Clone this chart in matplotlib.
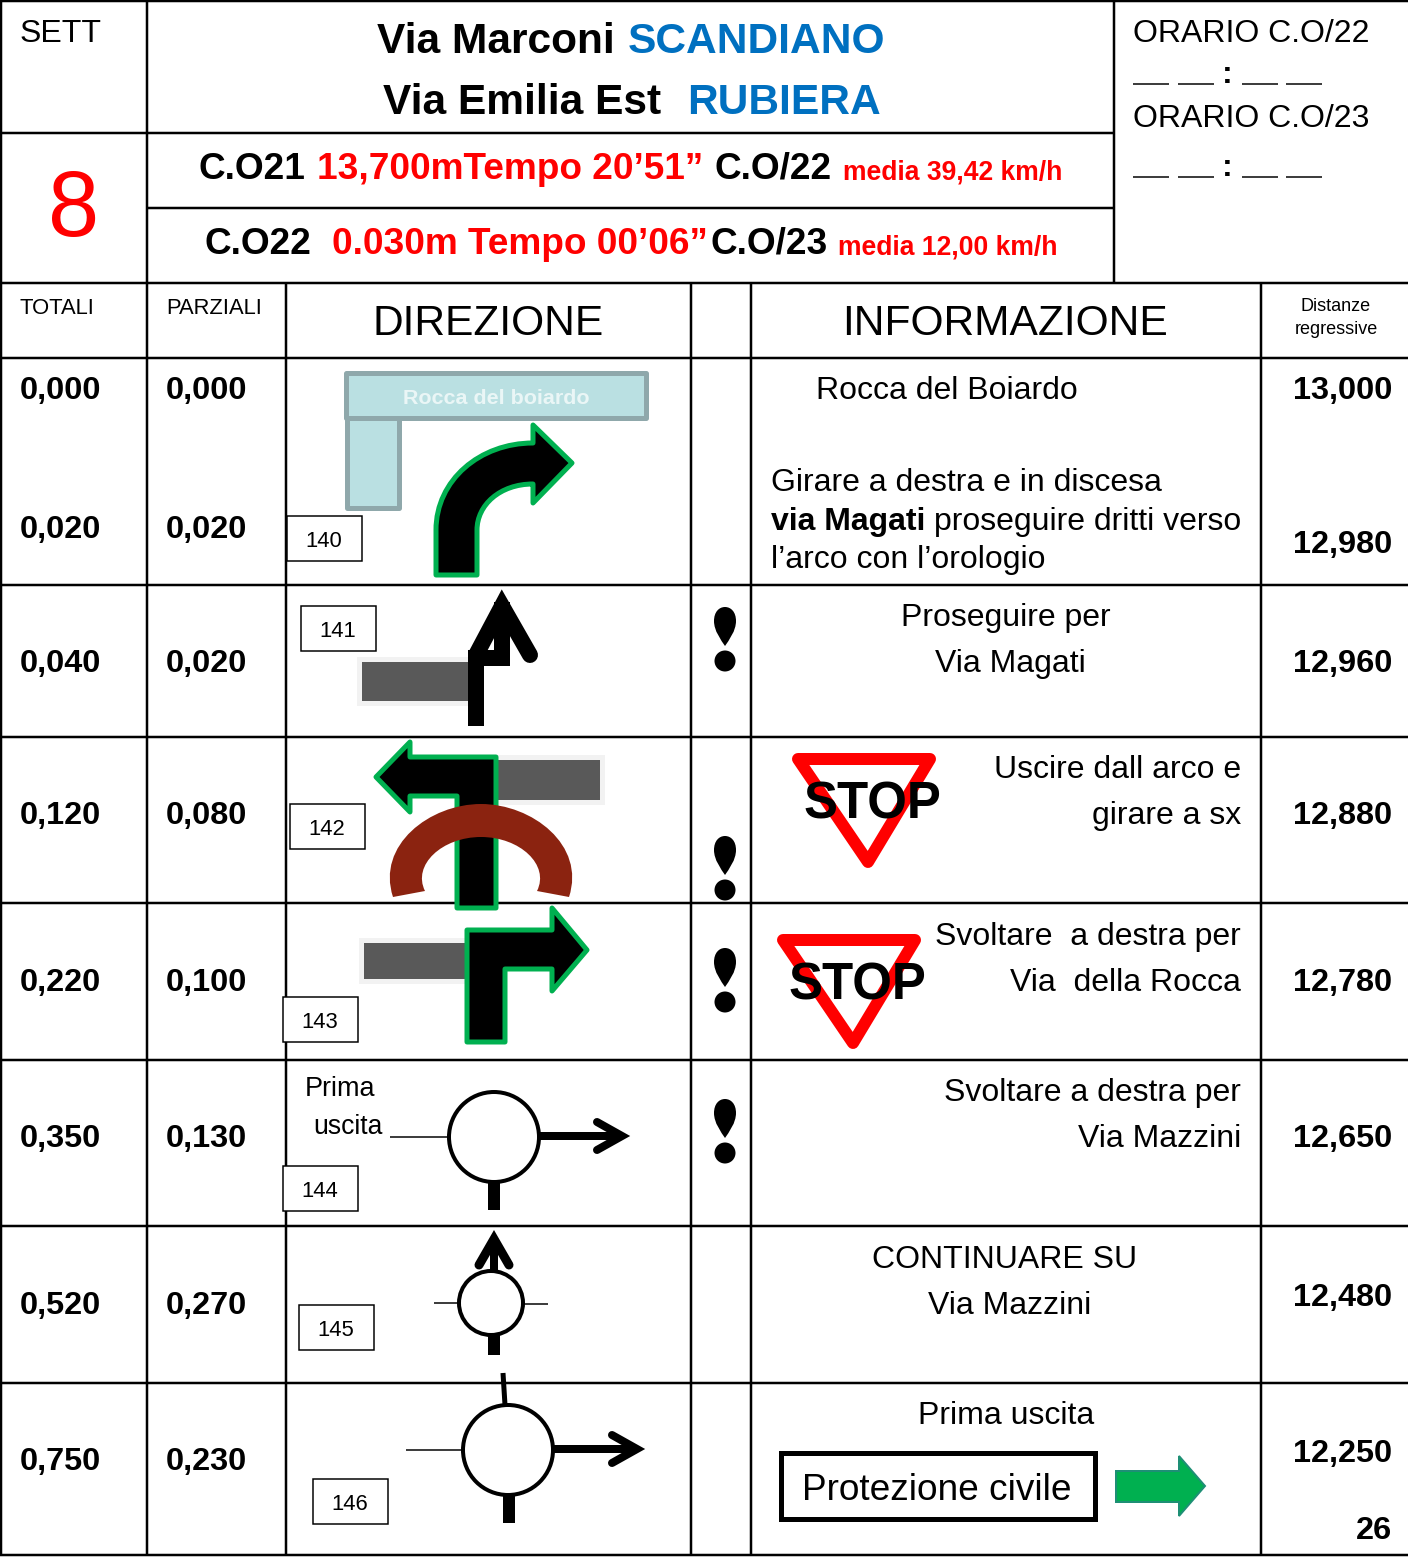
import matplotlib
matplotlib.use('Agg')
import matplotlib.pyplot as plt
from matplotlib.path import Path
from matplotlib.patches import PathPatch, Polygon, Rectangle, Circle, Ellipse

plt.rcParams['font.family'] = ['Liberation Sans', 'DejaVu Sans']

# valori della tabella
totali = ['0,000', '0,020', '0,040', '0,120', '0,220', '0,350', '0,520', '0,750']
parziali = ['0,000', '0,020', '0,020', '0,080', '0,100', '0,130', '0,270', '0,230']
righe_y = [388, 527, 661, 813, 980, 1136, 1303, 1459]
distanze = ['13,000', '12,980', '12,960', '12,880', '12,780', '12,650', '12,480', '12,250']
distanze_y = [388, 542, 661, 813, 980, 1136, 1295, 1451]
caselle = ['140', '141', '142', '143', '144', '145', '146']
caselle_x = [287, 301, 290, 283, 283, 299, 313]
caselle_y = [516, 606, 804, 997, 1166, 1305, 1479]
esclamativi_y = [607, 836, 948, 1099]

VERDE = '#00B050'
BLU = '#0070C0'
ROSSO = '#FF0000'
GRIGIO = '#595959'

fig = plt.figure(figsize=(14.08, 15.58), dpi=100)
ax = fig.add_axes([0, 0, 1, 1])
ax.set_xlim(0, 1408)
ax.set_ylim(1558, 0)
ax.axis('off')


def px(v):
    return v * 0.72


# testo centrato sulle maiuscole alla quota y
def testo(x, y, s, size, ha='left', color='black', bold=False, zorder=10):
    ax.text(x, y + 0.345 * size, s, fontsize=px(size), ha=ha, va='baseline', color=color,
            fontweight='bold' if bold else 'normal', zorder=zorder)


def linea(xs, ys, w=2.5, color='black', cap='butt', join='miter', zorder=3):
    ax.plot(xs, ys, color=color, lw=px(w), solid_capstyle=cap, solid_joinstyle=join, zorder=zorder)


def freccia_verde(punti, zorder=4):
    ax.add_patch(Polygon(punti, closed=True, facecolor='black', edgecolor=VERDE, lw=px(5),
                         joinstyle='round', zorder=zorder))


def grigio(x0, y0, x1, y1):
    ax.add_patch(Rectangle((x0 - 5, y0 - 5), x1 - x0 + 10, y1 - y0 + 10, facecolor='#F2F2F2', edgecolor='none', zorder=2))
    ax.add_patch(Rectangle((x0, y0), x1 - x0, y1 - y0, facecolor=GRIGIO, edgecolor='none', zorder=2))


def rotonda(cx, cy, r):
    ax.add_patch(Circle((cx, cy), r, facecolor='white', edgecolor='black', lw=px(4), zorder=5))


def stop(dx, dy):
    ax.add_patch(Polygon([(798 + dx, 759 + dy), (930 + dx, 759 + dy), (868 + dx, 862 + dy)], closed=True,
                         facecolor='white', edgecolor=ROSSO, lw=px(12), joinstyle='round', zorder=4))
    testo(872 + dx, 801 + dy, 'STOP', 51, ha='center', bold=True)


# griglia
for y, x0, x1 in [(1, 0, 1408), (133, 0, 1114), (208, 147, 1114), (283, 0, 1408), (358, 0, 1408),
                  (585, 0, 1408), (737, 0, 1408), (903, 0, 1408), (1060, 0, 1408), (1226, 0, 1408),
                  (1383, 0, 1408), (1555, 0, 1408)]:
    linea([x0, x1], [y - 0.5, y - 0.5], zorder=1)
for x, y0, y1 in [(1, 0, 1556), (147, 0, 1556), (286, 283, 1556), (691, 283, 1556), (751, 283, 1556),
                  (1261, 283, 1556), (1114, 0, 283)]:
    linea([x - 0.5, x - 0.5], [y0, y1], zorder=1)

# intestazione
testo(20, 31, 'SETT', 32)
testo(74, 204, '8', 92, ha='center', color=ROSSO)
testo(377, 38, 'Via Marconi', 42.5, bold=True)
testo(628, 38, 'SCANDIANO', 42.5, bold=True, color=BLU)
testo(383, 99, 'Via Emilia Est', 42.5, bold=True)
testo(687, 99, 'RUBIERA', 42.5, bold=True, color=BLU)
testo(198, 166, 'C.O21', 37, bold=True)
testo(317, 166, '13,700mTempo 20’51”', 37, bold=True, color=ROSSO)
testo(715, 166, 'C.O/22', 37, bold=True)
testo(843, 170, 'media 39,42 km/h', 26.5, bold=True, color=ROSSO)
testo(204, 241, 'C.O22', 37, bold=True)
testo(332, 241, '0.030m Tempo 00’06”', 37, bold=True, color=ROSSO)
testo(711, 241, 'C.O/23', 37, bold=True)
testo(838, 245, 'media 12,00 km/h', 26.5, bold=True, color=ROSSO)

testo(1133, 31, 'ORARIO C.O/22', 32)
testo(1133, 116, 'ORARIO C.O/23', 32)
for y in [72, 165]:
    for x in [1133, 1178, 1242, 1286]:
        linea([x, x + 36], [y + 12, y + 12], w=1.5)
    testo(1227, y, ':', 32, ha='center', bold=True)

testo(20, 306, 'TOTALI', 22)
testo(166, 306, 'PARZIALI', 22)
testo(488, 320, 'DIREZIONE', 42.5, ha='center')
testo(1005, 320, 'INFORMAZIONE', 42.5, ha='center')
testo(1336, 305, 'Distanze', 18, ha='center')
testo(1336, 328, 'regressive', 18, ha='center')

# colonne numeriche
for t, p, y in zip(totali, parziali, righe_y):
    testo(20, y, t, 32.5, bold=True)
    testo(166, y, p, 32.5, bold=True)
for d, y in zip(distanze, distanze_y):
    testo(1392, y, d, 32.5, ha='right', bold=True)
testo(1392, 1528, '26', 32.5, ha='right', bold=True)

# caselle numerate
for c, x, y in zip(caselle, caselle_x, caselle_y):
    ax.add_patch(Rectangle((x, y), 75, 45, facecolor='white', edgecolor='black', lw=px(1.5), zorder=6))
    testo(x + 37, y + 23, c, 22, ha='center')

# punti esclamativi
for y in esclamativi_y:
    goccia = Path([(714, y + 14), (714, y + 5), (719, y), (725, y), (731, y), (736, y + 5), (736, y + 14),
                   (736, y + 24), (729, y + 33), (725, y + 39), (721, y + 33), (714, y + 24), (714, y + 14)],
                  [Path.MOVETO] + [Path.CURVE4] * 12)
    ax.add_patch(PathPatch(goccia, facecolor='black', edgecolor='none', zorder=4))
    ax.add_patch(Ellipse((725, y + 54), 21, 21, facecolor='black', edgecolor='none', zorder=4))

# cartello Rocca del boiardo
ax.add_patch(Rectangle((347, 418), 52, 90, facecolor='#BAE0E2', edgecolor='#8FA8AB', lw=px(5), joinstyle='round', zorder=2))
ax.add_patch(Rectangle((346, 373), 300, 45, facecolor='#BAE0E2', edgecolor='#8FA8AB', lw=px(5), joinstyle='round', zorder=2))
testo(496, 397, 'Rocca del boiardo', 21.5, ha='center', color='#EAF6F6', bold=True)

# freccia curva
curva = Path([(436, 575), (436, 530), (436, 480), (480, 443), (533, 443), (533, 425), (572, 463), (533, 503),
              (533, 484), (500, 484), (477, 505), (477, 530), (477, 575), (436, 575)],
             [Path.MOVETO, Path.LINETO, Path.CURVE4, Path.CURVE4, Path.CURVE4, Path.LINETO, Path.LINETO, Path.LINETO,
              Path.LINETO, Path.CURVE4, Path.CURVE4, Path.CURVE4, Path.LINETO, Path.CLOSEPOLY])
ax.add_patch(PathPatch(curva, facecolor='black', edgecolor=VERDE, lw=px(5), joinstyle='round', zorder=4))

# riga 141
grigio(362, 662, 470, 701)
linea([476, 476, 502, 502], [726, 658, 658, 602], w=16, zorder=4)
linea([476, 502, 530], [655, 606, 655], w=16, cap='round', zorder=4)

# riga 142
grigio(498, 760, 600, 800)
freccia_verde([(457, 908), (457, 796), (410, 796), (410, 812), (376, 777), (410, 742), (410, 757), (496, 757), (496, 908)])
arco = Path([(393, 897), (376, 845), (430, 804), (481, 804), (532, 804), (586, 845), (569, 897), (537, 891),
             (550, 865), (520, 837), (481, 837), (442, 837), (412, 865), (425, 891), (393, 897)],
            [Path.MOVETO, Path.CURVE4, Path.CURVE4, Path.CURVE4, Path.CURVE4, Path.CURVE4, Path.CURVE4, Path.LINETO,
             Path.CURVE4, Path.CURVE4, Path.CURVE4, Path.CURVE4, Path.CURVE4, Path.CURVE4, Path.CLOSEPOLY])
ax.add_patch(PathPatch(arco, facecolor='#8B2310', edgecolor='none', zorder=5))

# riga 143
grigio(364, 943, 466, 979)
freccia_verde([(467, 1042), (467, 930), (552, 930), (552, 908), (587, 950), (552, 991), (552, 969), (505, 969), (505, 1042)])

# cartelli stop
stop(0, 0)
stop(-15, 181)

# rotonda 144
testo(305, 1087, 'Prima', 27)
testo(313, 1125, 'uscita', 26.5)
linea([390, 450], [1137, 1137], w=1.5)
rotonda(494, 1137, 45)
linea([539, 620], [1136, 1136], w=8, zorder=4)
linea([597, 622, 597], [1122, 1136, 1150], w=8, cap='round', zorder=4)
linea([494, 494], [1182, 1210], w=12, zorder=4)

# rotonda 145
linea([434, 460], [1303, 1303], w=1.5)
linea([522, 548], [1304, 1304], w=1.5)
rotonda(491, 1303, 32)
linea([494, 494], [1272, 1245], w=8, zorder=4)
linea([479, 494, 509], [1265, 1239, 1265], w=9, cap='round', zorder=4)
linea([494, 494], [1334, 1355], w=12, zorder=4)

# rotonda 146
linea([406, 464], [1450, 1450], w=1.5)
rotonda(508, 1450, 45)
linea([503, 505], [1373, 1405], w=5, zorder=4)
linea([554, 635], [1449, 1449], w=8, zorder=4)
linea([612, 637, 612], [1435, 1449, 1463], w=8, cap='round', zorder=4)
linea([509, 509], [1495, 1523], w=12, zorder=4)

# colonna informazione
testo(816, 388, 'Rocca del Boiardo', 32)
testo(771, 480, 'Girare a destra e in discesa', 32)
testo(771, 519, 'via Magati', 32, bold=True)
testo(934, 519, 'proseguire dritti verso', 32)
testo(771, 557, 'l’arco con l’orologio', 32)
testo(1006, 615, 'Proseguire per', 32, ha='center')
testo(1010, 661, 'Via Magati', 32, ha='center')
testo(1241, 767, 'Uscire dall arco e', 32, ha='right')
testo(1241, 813, 'girare a sx', 32, ha='right')
testo(1241, 934, 'Svoltare  a destra per', 32, ha='right')
testo(1241, 980, 'Via  della Rocca', 32, ha='right')
testo(1241, 1090, 'Svoltare a destra per', 32, ha='right')
testo(1241, 1136, 'Via Mazzini', 32, ha='right')
testo(1005, 1257, 'CONTINUARE SU', 32, ha='center')
testo(1010, 1303, 'Via Mazzini', 32, ha='center')
testo(1006, 1413, 'Prima uscita', 32, ha='center')

ax.add_patch(Rectangle((781, 1453), 314, 66, facecolor='white', edgecolor='black', lw=px(5), zorder=3))
testo(937, 1487, 'Protezione civile', 37, ha='center')
ax.add_patch(Polygon([(1116, 1471), (1179, 1471), (1179, 1456), (1205, 1486), (1179, 1516), (1179, 1502), (1116, 1502)],
                     closed=True, facecolor=VERDE, edgecolor='#1E8F75', lw=px(2), zorder=3))

fig.savefig('out.png', dpi=100, facecolor='white')
